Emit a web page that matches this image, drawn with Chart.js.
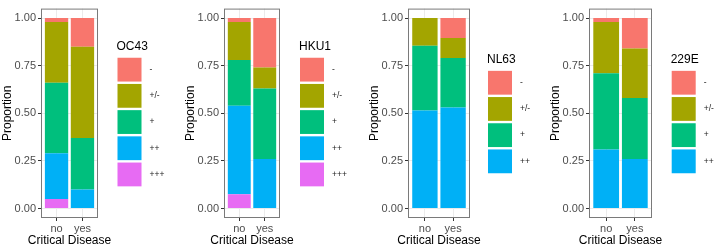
<!DOCTYPE html>
<html>
<head>
<meta charset="utf-8">
<script src="https://cdn.jsdelivr.net/npm/chart.js@4"></script>
<style>
  html, body { margin: 0; padding: 0; background: #fff; overflow: hidden; }
  #wrap { position: relative; width: 716px; height: 247px; overflow: hidden; }
  #wrap canvas { position: absolute; top: 0; }
</style>
</head>
<body>
<div id="wrap"></div>
<script>
const groups = ['no', 'yes'];
const levels = ['-', '+/-', '+', '++', '+++'];
const levelColors = ['#F8766D', '#A3A500', '#00BF7D', '#00B0F6', '#E76BF3'];
const yTicks = [0, 0.25, 0.5, 0.75, 1];
const viruses = ['OC43', 'HKU1', 'NL63', '229E'];
const xTitle = 'Critical Disease';
const yTitle = 'Proportion';

// proportion of each level (same order as levels), [no, yes]
const oc43 = [[0.02, 0.15], [0.32, 0.48], [0.37, 0.27], [0.24, 0.10], [0.05, 0]];
const hku1 = [[0.02, 0.26], [0.20, 0.11], [0.24, 0.37], [0.465, 0.26], [0.075, 0]];
const nl63 = [[0, 0.105], [0.145, 0.105], [0.34, 0.26], [0.515, 0.53]];
const e229 = [[0.02, 0.16], [0.27, 0.26], [0.40, 0.32], [0.31, 0.26]];
const virusData = [oc43, hku1, nl63, e229];

// layout of the 4 facets (canvas left, panel width, legend gap)
const panels = [
  {left: 0, plotW: 57, gap: 19.5},
  {left: 183, plotW: 56, gap: 20},
  {left: 367, plotW: 62, gap: 18},
  {left: 548, plotW: 63, gap: 19.7}
];
const family = '"Liberation Sans", Arial, sans-serif';
const yAxisW = 41, xAxisH = 29, legendRoom = 72;

// ggplot style panel border
const panelBorder = {
  id: 'panelBorder',
  afterDatasetsDraw(chart) {
    const a = chart.chartArea, ctx = chart.ctx;
    ctx.save();
    ctx.strokeStyle = '#7a7a7a';
    ctx.lineWidth = 1;
    ctx.strokeRect(a.left + 0.5, a.top + 0.5, a.width - 1, a.height - 1);
    ctx.restore();
  }
};

// x axis title, centred under the panel (the scale title gets squeezed to the panel width)
const xCaption = {
  id: 'xCaption',
  afterDraw(chart) {
    const a = chart.chartArea, ctx = chart.ctx;
    ctx.save();
    ctx.font = '12px ' + family;
    ctx.fillStyle = '#000';
    ctx.textAlign = 'center';
    ctx.textBaseline = 'middle';
    ctx.fillText(xTitle, (a.left + a.right) / 2, 241);
    ctx.restore();
  }
};

// legend with title and square keys, to the right of the panel
const keyLegend = {
  id: 'keyLegend',
  afterDraw(chart, args, opts) {
    const ctx = chart.ctx, a = chart.chartArea;
    const items = chart.data.datasets.slice().reverse();
    const pitch = 26.2, keyW = 24, keyH = 23.8, titleH = 17.5;
    const total = titleH + items.length * pitch - 2.4;
    const top = (a.top + a.bottom) / 2 - total / 2;
    const x = a.right + opts.gap;
    ctx.save();
    ctx.textBaseline = 'middle';
    ctx.textAlign = 'left';
    ctx.fillStyle = '#000';
    ctx.font = '12px ' + family;
    ctx.fillText(opts.title, x - 1, top + 6.5);
    ctx.font = '8.5px ' + family;
    items.forEach((ds, i) => {
      const y = top + titleH + i * pitch;
      ctx.fillStyle = ds.backgroundColor;
      ctx.fillRect(x, y, keyW, keyH);
      ctx.fillStyle = '#1a1a1a';
      ctx.fillText(ds.label, x + keyW + 8, y + keyH / 2);
    });
    ctx.restore();
  }
};

const wrap = document.getElementById('wrap');

panels.forEach((p, k) => {
  const cv = document.createElement('canvas');
  cv.width = yAxisW + p.plotW + legendRoom;
  cv.height = 247;
  cv.style.left = p.left + 'px';
  wrap.appendChild(cv);

  const datasets = virusData[k].map((row, li) => ({
    label: levels[li],
    data: row.map((v, gi) => ({x: gi + 1, y: v})),
    backgroundColor: levelColors[li],
    borderWidth: 0,
    inflateAmount: 0,
    categoryPercentage: 0.9,
    barPercentage: 1
  })).reverse();

  new Chart(cv.getContext('2d'), {
    type: 'bar',
    data: {datasets: datasets},
    plugins: [panelBorder, xCaption, keyLegend],
    options: {
      responsive: false,
      animation: false,
      events: [],
      layout: {padding: {top: 1, left: 0, bottom: 0, right: legendRoom}},
      plugins: {
        legend: {display: false},
        tooltip: {enabled: false},
        keyLegend: {title: viruses[k], gap: p.gap}
      },
      scales: {
        x: {
          type: 'linear',
          stacked: true,
          min: 0.4,
          max: 2.6,
          bounds: 'data',
          offset: false,
          afterBuildTicks: s => { s.ticks = groups.map((g, i) => ({value: i + 1})); },
          afterFit: s => { s.height = xAxisH; },
          grid: {color: '#ebebeb', tickColor: '#333', tickLength: 3, offset: false},
          border: {display: false},
          ticks: {
            callback: v => groups[v - 1],
            color: '#4d4d4d',
            font: {size: 11, family: family},
            padding: 1,
            maxRotation: 0,
            autoSkip: false
          },
          title: {display: false}
        },
        y: {
          stacked: true,
          min: -0.05,
          max: 1.05,
          bounds: 'data',
          afterBuildTicks: s => { s.ticks = yTicks.map(v => ({value: v})); },
          afterFit: s => { s.width = yAxisW; },
          grid: {color: '#ebebeb', tickColor: '#333', tickLength: 3},
          border: {display: false},
          ticks: {
            callback: v => v.toFixed(2),
            color: '#4d4d4d',
            font: {size: 11, family: family},
            padding: 2
          },
          title: {display: true, text: yTitle, color: '#000',
                  font: {size: 12, family: family}, padding: 0}
        }
      }
    }
  });
});
</script>
</body>
</html>
